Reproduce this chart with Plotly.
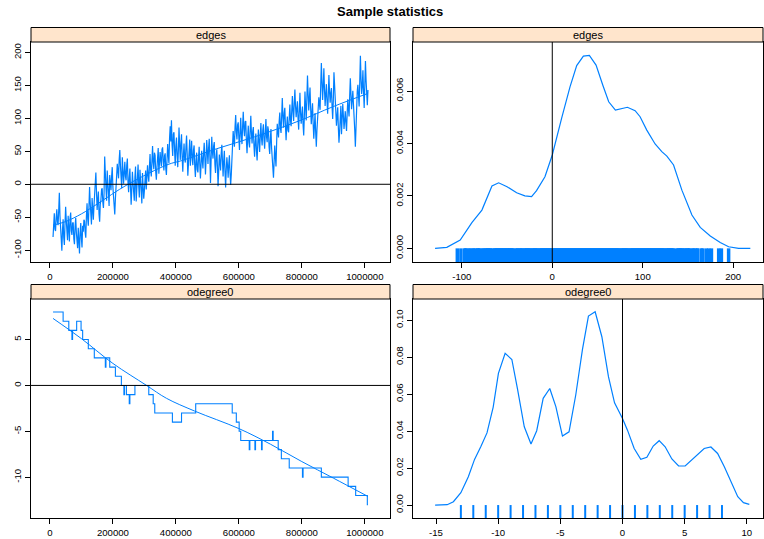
import plotly.graph_objects as go

# ---------------- data ----------------
# MCMC sample of the "edges" statistic (deviation from observed), every 2000 iterations
edges_iter = list(range(10000, 1010001, 2000))
edges_values = [
    # 10k - 108k
    -80, -62, -44, -68, -71, -50, -38, -57, -62, -40, -13, -48, -76, -95, -101, -70, -53, -81, -92, -60,
    -34, -55, -69, -85, -48, -66, -87, -52, -43, -71, -77, -59, -58, -83, -91, -64, -51, -73, -82, -97,
    -66, -88, -105, -74, -59, -82, -96, -63, -72, -54,
    # 110k - 208k
    -56, -73, -81, -49, -29, -52, -63, -35, -4, -28, -47, -61, -21, -40, -54, -33, -16, 5, 18, -12,
    -39, -24, -11, -45, -57, -30, -24, -8, -6, -27, -36, -14, 42, 17, -7, -25, 21, 3, -19, -33,
    14, -2, -9, 12, 26, -4, -17, -30, -46, -22,
    # 210k - 308k
    -3, 15, 31, 20, 9, 37, 52, 28, 16, -6, 41, 23, 1, 18, 34, 12, 6, 29, 39, 3,
    -12, 10, 24, -4, -31, -9, 19, 2, -14, -25, 11, 27, -26, -7, 13, 30, -2, -20, 22, 5,
    -18, -29, 17, -1, -22, -10, 8, 21, -8, 4,
    # 310k - 408k
    29, 14, 4, 26, 46, 22, 12, 35, 58, 33, 23, 48, 44, 19, 7, 25, 38, 55, 16, 30,
    49, 36, 27, 53, 56, 34, 21, 43, 47, 24, 14, 37, 61, 45, 32, 70, 88, 65, 97, 60,
    43, 76, 79, 50, 28, 58, 71, 44, 26, 52,
    # 410k - 508k
    86, 59, 37, 62, 76, 41, 19, 45, 62, 38, 33, 57, 74, 46, 13, 31, 54, 68, 28, 47,
    66, 39, 29, 52, 59, 27, 11, 35, 48, 22, 18, 40, 57, 31, 9, 29, 51, 37, 24, 46,
    63, 41, 15, 38, 67, 50, 31, 55, 69, 42,
    # 510k - 608k
    2, 38, 72, 50, 39, 58, 64, 30, 17, 42, 53, 27, -3, 20, 45, 33, 21, 47, 60, 35,
    12, 36, 51, 19, -5, 22, 41, 28, 10, 30, 44, 18, -1, 15, 33, 58, 81, 66, 57, 88,
    105, 79, 68, 90, 94, 71, 52, 80, 101, 73,
    # 610k - 708k
    61, 88, 110, 84, 73, 95, 96, 66, 47, 71, 89, 63, 56, 82, 104, 77, 62, 80, 87, 58,
    42, 64, 77, 51, 36, 60, 83, 65, 49, 74, 93, 70, 59, 82, 91, 67, 54, 78, 99, 72,
    64, 88, 82, 57, 46, 69, 84, 55, 38, 22,
    # 710k - 808k
    10, 34, 59, 41, 27, 63, 92, 80, 71, 95, 109, 86, 78, 104, 131, 102, 86, 108, 116, 89,
    67, 88, 103, 82, 79, 100, 121, 97, 88, 112, 134, 110, 96, 124, 144, 118, 102, 115, 126, 99,
    83, 112, 139, 108, 92, 106, 118, 90, 74, 103,
    # 810k - 908k
    141, 118, 97, 130, 165, 137, 112, 131, 147, 116, 91, 108, 123, 92, 69, 88, 108, 79, 57, 82,
    101, 118, 132, 121, 113, 150, 184, 155, 128, 149, 176, 143, 119, 137, 152, 126, 107, 134, 166, 140,
    124, 139, 146, 118, 99, 127, 170, 151, 133, 109,
    # 910k - 1008k
    89, 104, 117, 86, 63, 80, 98, 119, 76, 101, 122, 104, 84, 97, 111, 93, 81, 107, 129, 115,
    103, 134, 161, 137, 114, 128, 142, 121, 106, 83, 57, 92, 127, 141, 151, 132, 118, 156, 195, 160,
    137, 149, 173, 141, 116, 150, 187, 158, 131, 120,
    # 1010k
    143,
]

# loess-type smooth through the edges trace
edges_smooth_iter = [10000, 48000, 100000, 150000, 248000, 375000, 419000, 530000, 650000, 790000, 900000, 1010000]
edges_smooth_val = [-62, -57, -45, -30, 0, 30, 36, 54, 72, 96, 118, 138]

# kernel density estimate of edges
edges_dens_x = [-129.6, -116.6, -101.8, -88.9, -77.8, -66.7, -59.3, -50.0, -39.4, -30.3, -22.9, -17.4, -8.1, 0.0,
                10.3, 19.6, 27.0, 34.4, 41.0, 48.4, 55.8, 62.4, 69.8, 83.1, 91.6, 97.1, 104.5, 113.7, 121.1,
                126.7, 134.1, 143.3, 154.4, 163.6, 174.7, 185.7, 195.0, 206.0, 219.0]
edges_dens_y = [0.0, 0.00004, 0.00032, 0.00098, 0.00146, 0.00238, 0.0025, 0.00235, 0.00212, 0.0020, 0.00197,
                0.0022, 0.00273, 0.00356, 0.00496, 0.00616, 0.00697, 0.00733, 0.00736, 0.00699, 0.00623,
                0.00559, 0.00527, 0.00538, 0.00525, 0.00502, 0.00451, 0.00398, 0.00369, 0.00352, 0.00318,
                0.00222, 0.00127, 0.0008, 0.00047, 0.00022, 0.00006, 0.0, 0.0]

# odegree0 trace: iterations where the value changes, and the new value
odeg_iter = [10000, 42000, 60000, 70000, 72000, 85000, 99000, 104000, 122000, 141000, 176000, 178000, 190000,
             208000, 227000, 235000, 237000, 243000, 252000, 254000, 270000, 314000, 328000, 333000, 389000,
             418000, 463000, 579000, 592000, 601000, 606000, 633000, 635000, 651000, 653000, 672000, 674000,
             707000, 709000, 725000, 735000, 760000, 802000, 804000, 862000, 947000, 971000, 1008000, 1010000]
odeg_values = [8, 7, 6, 5, 6, 7, 6, 5, 4, 3, 2, 3, 2,
               1, 0, -1, 0, -1, -2, -1, 0, -1, -2, -3, -4,
               -3, -2, -3, -4, -5, -6, -7, -6, -7, -6, -7, -6,
               -5, -6, -7, -8, -9, -10, -9, -10, -11, -12, -13, -13]

odeg_smooth_iter = [10000, 100000, 200000, 307000, 370000, 460000, 600000, 700000, 800000, 900000, 1010000]
odeg_smooth_val = [7.3, 5.1, 2.4, 0.0, -1.4, -2.8, -4.7, -6.4, -8.3, -10.1, -12.1]

# kernel density estimate of odegree0
odeg_dens_x = [-15.07, -14.1, -13.6, -13.0, -12.4, -11.9, -11.4, -10.9, -10.4, -9.98, -9.44, -8.9, -8.45, -7.9,
               -7.36, -6.9, -6.38, -5.85, -5.36, -4.83, -4.3, -3.76, -3.22, -2.74, -2.2, -1.66, -1.13, -0.64,
               0.0, 0.4, 0.94, 1.47, 1.96, 2.47, 2.95, 3.43, 3.97, 4.51, 5.04, 5.58, 6.12, 6.57, 7.11, 7.65,
               8.19, 8.73, 9.27, 9.73, 10.2]
odeg_dens_y = [0.0, 0.0002, 0.0018, 0.0067, 0.0153, 0.0247, 0.0315, 0.039, 0.053, 0.0712, 0.082, 0.0787, 0.063,
               0.0423, 0.033, 0.0402, 0.0577, 0.063, 0.0532, 0.0373, 0.0396, 0.0595, 0.0842, 0.1022, 0.1045,
               0.091, 0.0694, 0.0553, 0.0468, 0.0405, 0.0306, 0.0247, 0.0258, 0.0319, 0.0348, 0.0315, 0.0249,
               0.0211, 0.0211, 0.0243, 0.0279, 0.0306, 0.0314, 0.0279, 0.0207, 0.0123, 0.0045, 0.0013, 0.0004]

iter_ticks = [0, 200000, 400000, 600000, 800000, 1000000]
edges_ticks = [-100, -50, 0, 50, 100, 150, 200]
edges_dens_ticks = [0.0, 0.002, 0.004, 0.006]
edges_x_ticks = [-100, 0, 100, 200]
odeg_ticks = [-10, -5, 0, 5]
odeg_dens_ticks = [0.0, 0.02, 0.04, 0.06, 0.08, 0.10]
odeg_x_ticks = [-15, -10, -5, 0, 5, 10]

# ---------------- styling ----------------
W, H = 764, 539
BLUE = "#0080ff"
STRIP_BG = "#ffe5cc"
FONT = "Liberation Sans, Arial, Helvetica, sans-serif"
TICK_FONT = dict(family=FONT, size=9.6, color="black")

# panel boxes in pixels: (left, right, top, bottom), strip height above each
panels = {
    "tl": (31, 390, 42, 262),
    "tr": (413, 763, 42, 262),
    "bl": (31, 390, 299, 518),
    "br": (413, 763, 299, 518),
}
STRIP_H = 14.5


def xdom(p):
    return [p[0] / W, p[1] / W]


def ydom(p):
    return [1 - p[3] / H, 1 - p[2] / H]


fig = go.Figure()

# --- edges trace ---
fig.add_trace(go.Scatter(x=edges_iter, y=edges_values, mode="lines",
                         line=dict(color=BLUE, width=1.2), xaxis="x", yaxis="y"))
fig.add_trace(go.Scatter(x=edges_smooth_iter, y=edges_smooth_val, mode="lines", line_shape="spline",
                         line=dict(color=BLUE, width=1), xaxis="x", yaxis="y"))

# --- edges density + rug ---
fig.add_trace(go.Scatter(x=edges_dens_x, y=edges_dens_y, mode="lines",
                         line=dict(color=BLUE, width=1.2), xaxis="x2", yaxis="y2"))
EDGES_DENS_RANGE = [-0.00052, 0.00787]
rx, ry = [], []
for v in sorted(set(edges_values)):
    rx += [v, v, None]
    ry += [0, EDGES_DENS_RANGE[0], None]
fig.add_trace(go.Scatter(x=rx, y=ry, mode="lines", line=dict(color=BLUE, width=3.5),
                         xaxis="x2", yaxis="y2"))

# --- odegree0 trace ---
fig.add_trace(go.Scatter(x=odeg_iter, y=odeg_values, mode="lines", line_shape="hv",
                         line=dict(color=BLUE, width=1.1), xaxis="x3", yaxis="y3"))
fig.add_trace(go.Scatter(x=odeg_smooth_iter, y=odeg_smooth_val, mode="lines", line_shape="spline",
                         line=dict(color=BLUE, width=1), xaxis="x3", yaxis="y3"))

# --- odegree0 density + rug ---
fig.add_trace(go.Scatter(x=odeg_dens_x, y=odeg_dens_y, mode="lines",
                         line=dict(color=BLUE, width=1.2), xaxis="x4", yaxis="y4"))
ODEG_DENS_RANGE = [-0.0070, 0.1114]
rx, ry = [], []
for v in sorted(set(odeg_values)):
    rx += [v, v, None]
    ry += [0, ODEG_DENS_RANGE[0], None]
fig.add_trace(go.Scatter(x=rx, y=ry, mode="lines", line=dict(color=BLUE, width=2),
                         xaxis="x4", yaxis="y4"))


def axis(domain, anchor, rng, tickvals, ticktext, angle=0):
    return dict(domain=domain, anchor=anchor, range=rng, tickvals=tickvals, ticktext=ticktext,
                tickangle=angle, ticks="outside", ticklen=5, tickwidth=1, tickcolor="black",
                showline=True, linecolor="black", linewidth=1, mirror=True,
                showgrid=False, zeroline=False, tickfont=TICK_FONT, fixedrange=True)


fig.update_layout(
    xaxis=axis(xdom(panels["tl"]), "y", [-60000, 1080000], iter_ticks, [str(t) for t in iter_ticks]),
    yaxis=axis(ydom(panels["tl"]), "x", [-118, 216], edges_ticks, [str(t) for t in edges_ticks], -90),
    xaxis2=axis(xdom(panels["tr"]), "y2", [-154, 233], edges_x_ticks, [str(t) for t in edges_x_ticks]),
    yaxis2=axis(ydom(panels["tr"]), "x2", EDGES_DENS_RANGE, edges_dens_ticks,
                ["%.3f" % t for t in edges_dens_ticks], -90),
    xaxis3=axis(xdom(panels["bl"]), "y3", [-60000, 1080000], iter_ticks, [str(t) for t in iter_ticks]),
    yaxis3=axis(ydom(panels["bl"]), "x3", [-14.45, 9.42], odeg_ticks, [str(t) for t in odeg_ticks], -90),
    xaxis4=axis(xdom(panels["br"]), "y4", [-16.85, 11.3], odeg_x_ticks, [str(t) for t in odeg_x_ticks]),
    yaxis4=axis(ydom(panels["br"]), "x4", ODEG_DENS_RANGE, odeg_dens_ticks,
                ["%.2f" % t for t in odeg_dens_ticks], -90),
)

shapes = []
annotations = []
strip_names = {"tl": "edges", "tr": "edges", "bl": "odegree0", "br": "odegree0"}
for key, p in panels.items():
    shapes.append(dict(type="rect", xref="paper", yref="paper",
                       x0=p[0] / W, x1=p[1] / W, y0=1 - p[2] / H, y1=1 - (p[2] - STRIP_H) / H,
                       fillcolor=STRIP_BG, line=dict(color="black", width=1), layer="above"))
    annotations.append(dict(text=strip_names[key], xref="paper", yref="paper",
                            x=(p[0] + p[1]) / 2 / W, y=1 - (p[2] - STRIP_H / 2) / H,
                            showarrow=False, font=dict(family=FONT, size=11, color="black"),
                            xanchor="center", yanchor="middle"))

# reference lines at zero
shapes += [
    dict(type="line", xref="x domain", yref="y", x0=0, x1=1, y0=0, y1=0,
         line=dict(color="black", width=1), layer="above"),
    dict(type="line", xref="x2", yref="y2 domain", x0=0, x1=0, y0=0, y1=1,
         line=dict(color="black", width=1), layer="above"),
    dict(type="line", xref="x3 domain", yref="y3", x0=0, x1=1, y0=0, y1=0,
         line=dict(color="black", width=1), layer="above"),
    dict(type="line", xref="x4", yref="y4 domain", x0=0, x1=0, y0=0, y1=1,
         line=dict(color="black", width=1), layer="above"),
]

annotations.append(dict(text="<b>Sample statistics</b>", xref="paper", yref="paper",
                        x=390 / W, y=1 - 12 / H, showarrow=False,
                        font=dict(family=FONT, size=13, color="black"),
                        xanchor="center", yanchor="middle"))

fig.update_layout(
    width=W, height=H, margin=dict(l=0, r=0, t=0, b=0),
    paper_bgcolor="white", plot_bgcolor="white", showlegend=False,
    shapes=shapes, annotations=annotations,
)

fig.write_html("out.html")
